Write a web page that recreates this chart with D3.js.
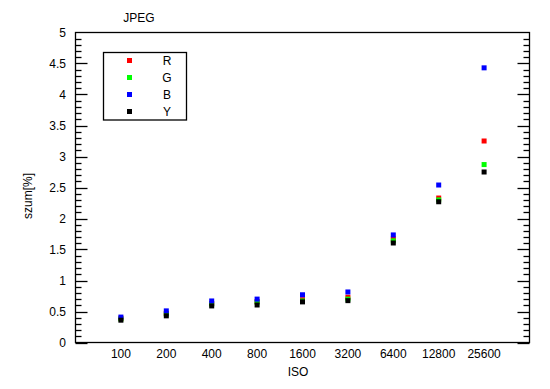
<!DOCTYPE html>
<html><head><meta charset="utf-8">
<script src="https://cdn.jsdelivr.net/npm/d3@7/dist/d3.min.js"></script>
<style>body{margin:0;background:#fff}svg{display:block}text{font-family:"Liberation Sans",Arial,sans-serif;font-size:12px;fill:#000}</style>
</head><body><svg id="c" width="550" height="389"></svg>
<script>
const categories = ["100","200","400","800","1600","3200","6400","12800","25600"];
const R = [0.39,0.47,0.63,0.66,0.69,0.73,1.67,2.33,3.25];
const G = [0.38,0.46,0.62,0.65,0.67,0.70,1.64,2.30,2.87];
const B = [0.41,0.51,0.67,0.70,0.77,0.815,1.735,2.54,4.43];
const Y = [0.36,0.43,0.59,0.605,0.655,0.675,1.605,2.27,2.75];
const seriesNames = ["R","G","B","Y"];
const seriesColors = ["#ff0000","#00ff00","#0000ff","#000000"];
const yTicks = [0,0.5,1,1.5,2,2.5,3,3.5,4,4.5,5];

const svg = d3.select("#c");
const L=75.5, Rt=529.5, T=32.5, Bm=342.5;
const x = d3.scaleLinear().domain([0,categories.length+1]).range([L,Rt]);
const y = d3.scaleLinear().domain([0,5]).range([Bm,T]);

// frame
svg.append("rect").attr("x",L).attr("y",T).attr("width",Rt-L).attr("height",Bm-T)
  .attr("fill","none").attr("stroke","#000").attr("stroke-width",1.3);

// ticks
const minor = d3.range(0,50).map(i=>i/10);
const g = svg.append("g").attr("stroke","#000").attr("stroke-width",1.3);
minor.forEach(v=>{
  const major = Math.abs(v*2-Math.round(v*2))<1e-6;
  const len = major?12:6;
  const yy = Math.round(y(v))+0.5;
  g.append("line").attr("x1",L).attr("x2",L+len).attr("y1",yy).attr("y2",yy);
  g.append("line").attr("x1",Rt-len).attr("x2",Rt).attr("y1",yy).attr("y2",yy);
});
yTicks.forEach(v=>{
  svg.append("text").attr("x",66).attr("y",y(v)+4.5).attr("text-anchor","end").text(String(v));
});
categories.forEach((c,i)=>{
  svg.append("text").attr("x",x(i+1)).attr("y",358).attr("text-anchor","middle").text(c);
});
svg.append("text").attr("x",298).attr("y",376).attr("text-anchor","middle").text("ISO");
svg.append("text").attr("x",139).attr("y",22).attr("text-anchor","middle").text("JPEG");
svg.append("text").attr("transform","translate(32,196) rotate(-90)").attr("text-anchor","middle").text("szum[%]");

const data=[R,G,B,Y];
data.forEach((arr,si)=>{
  svg.append("g").selectAll("rect").data(arr).join("rect")
    .attr("x",(d,i)=>x(i+1)-2.5).attr("y",d=>y(d)-2.5)
    .attr("width",5).attr("height",5).attr("fill",seriesColors[si]);
});

// legend
svg.append("rect").attr("x",103.5).attr("y",52.5).attr("width",83).attr("height",67.5)
  .attr("fill","#fff").attr("stroke","#000").attr("stroke-width",1.3);
seriesNames.forEach((n,i)=>{
  const yy = 60.5+i*17;
  svg.append("rect").attr("x",127).attr("y",yy-2.5).attr("width",5).attr("height",5).attr("fill",seriesColors[i]);
  svg.append("text").attr("x",167).attr("y",yy+4.5).attr("text-anchor","middle").text(n);
});
</script></body></html>
